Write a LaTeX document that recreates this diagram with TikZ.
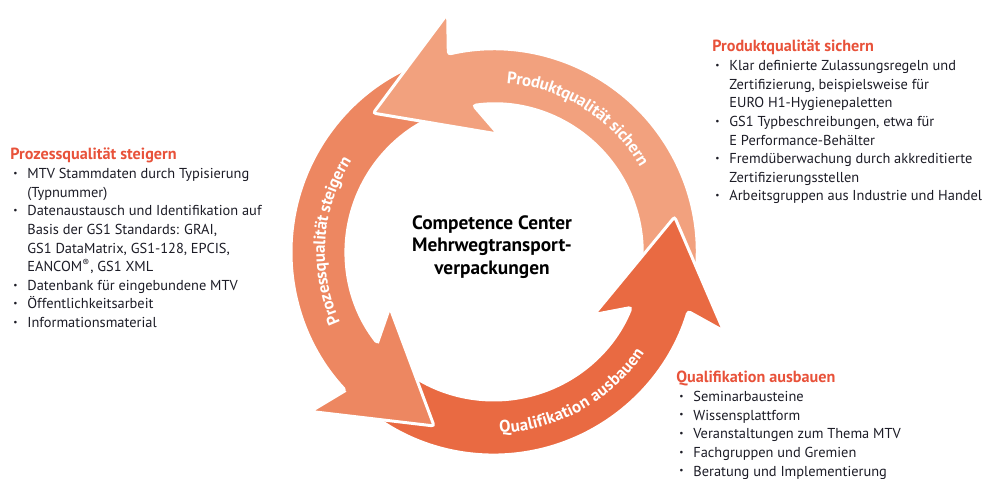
\documentclass[tikz,border=0pt]{standalone}
\usepackage{fontspec}
\setmainfont{PT Sans}
\usepackage{graphicx}
\usetikzlibrary{calc,positioning,decorations.text}

\definecolor{prodcol}{RGB}{242,161,126}
\definecolor{prozcol}{RGB}{237,135,97}
\definecolor{qualcol}{RGB}{233,106,66}
\definecolor{headcol}{RGB}{232,82,58}
\definecolor{txtcol}{RGB}{28,28,38}

\newcommand{\itm}{\hspace*{1.7pt}\makebox[8pt][l]{\raisebox{0.3ex}{\scalebox{0.65}{\textbullet}}}}
\newcommand{\cnt}{\hspace*{9.7pt}}
\newcommand{\hd}[1]{{\fontsize{9.2}{10.6}\selectfont\color{headcol}\bfseries #1}}

\tikzset{
  listbox/.style={anchor=north west, align=left, inner sep=0pt, text=txtcol,
    font=\fontsize{8.2}{10.6}\selectfont},
  centertext/.style={align=center, inner sep=0pt, font=\fontsize{11}{13}\selectfont\bfseries},
  ringtext/.style={decorate, decoration={text along path, text align=center, raise=-3.4pt,
    text={|\fontsize{9.6}{9.6}\selectfont\bfseries\color{white}|#1}}}
}

\begin{document}
\begin{tikzpicture}[x=0.02cm,y=0.02cm]
 \useasboundingbox (0,0) rectangle (992,479);
 \coordinate (mid) at (494,227);

  % draw the three arrows of the cycle
  \begin{scope}[shift={(mid)}]
    \foreach \tip/\col in {251/prozcol,131/prodcol,371/qualcol}{
      \filldraw[fill=\col, draw=white, line width=1.7pt, rounded corners=1.5pt]
        ({\tip-140}:203) arc[start angle={\tip-140}, end angle={\tip-28}, radius=203]
        -- ({\tip-30}:243) -- (\tip:184) -- ({\tip-43}:118) -- ({\tip-33}:148)
        arc[start angle={\tip-33}, end angle={\tip-140}, radius=148] -- cycle;
    }
    % head of the left arrow once more, over the tail of the bottom one
    \fill[prozcol, rounded corners=1.5pt] (223:203) -- (221:243) -- (251:184) -- (208:118) -- (218:148) -- cycle;
    \draw[white, line width=1.7pt, rounded corners=1.5pt] (218:148) -- (208:118) -- (251:184) -- (221:243) -- (223:203);

    % labels along the ring
    \path[ringtext={Produktqualität sichern}] (118:175) arc[start angle=118, end angle=-2, radius=175];
    \path[ringtext={Prozessqualität steigern}] (236:175) arc[start angle=236, end angle=116, radius=175];
    \path[ringtext={Qualifikation ausbauen}] (239:175) arc[start angle=239, end angle=359, radius=175];
  \end{scope}

  \node[centertext] (cc) at (492,232) {Competence Center\\Mehrwegtransport-\\verpackungen};

  % text blocks
  \node[listbox] (prozess) at (10,331) {\hd{Prozessqualität steigern}\\
    \itm MTV Stammdaten durch Typisierung\\
    \cnt (Typnummer)\\
    \itm Datenaustausch und Identifikation auf\\
    \cnt Basis der GS1 Standards: GRAI,\\
    \cnt GS1 DataMatrix, GS1-128, EPCIS,\\
    \cnt EANCOM\textsuperscript{®}, GS1 XML\\
    \itm Datenbank für eingebundene MTV\\
    \itm Öffentlichkeitsarbeit\\
    \itm Informationsmaterial};

  \node[listbox] (produkt) at (712,439) {\hd{Produktqualität sichern}\\
    \itm Klar definierte Zulassungsregeln und\\
    \cnt Zertifizierung, beispielsweise für\\
    \cnt EURO H1-Hygienepaletten\\
    \itm GS1 Typbeschreibungen, etwa für\\
    \cnt E Performance-Behälter\\
    \itm Fremdüberwachung durch akkreditierte\\
    \cnt Zertifizierungsstellen\\
    \itm Arbeitsgruppen aus Industrie und Handel};

  \node[listbox] (quali) at (676,108) {\hd{Qualifikation ausbauen}\\
    \itm Seminarbausteine\\
    \itm Wissensplattform\\
    \itm Veranstaltungen zum Thema MTV\\
    \itm Fachgruppen und Gremien\\
    \itm Beratung und Implementierung};
\end{tikzpicture}
\end{document}
